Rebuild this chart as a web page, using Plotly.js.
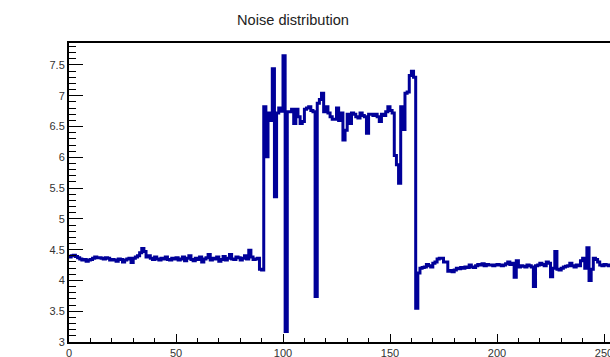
<!DOCTYPE html>
<html>
<head>
<meta charset="utf-8">
<script src="https://cdn.plot.ly/plotly-3.0.1.min.js"></script>
<style>html,body{margin:0;padding:0;background:#fff;}#chart{width:610px;height:357px;}</style>
</head>
<body>
<div id="chart"></div>
<script>
// Noise per channel (bin i covers [i, i+1))
const noiseLeft = [
  4.38, 4.40, 4.41, 4.39, 4.37, 4.35, 4.33, 4.34, 4.31, 4.33,
  4.34, 4.36, 4.38, 4.37, 4.37, 4.36, 4.35, 4.37, 4.36, 4.33,
  4.34, 4.33, 4.31, 4.35, 4.34, 4.30, 4.33, 4.35, 4.36, 4.29,
  4.36, 4.38, 4.40, 4.45, 4.52, 4.47, 4.38, 4.40, 4.36, 4.34,
  4.38, 4.35, 4.33, 4.36, 4.35, 4.38, 4.34, 4.33, 4.36, 4.35,
  4.37, 4.33, 4.35, 4.38, 4.32, 4.36, 4.40, 4.34, 4.32, 4.36,
  4.34, 4.38, 4.30, 4.35, 4.37, 4.42, 4.33, 4.36, 4.35, 4.38,
  4.31, 4.34, 4.39, 4.33, 4.36, 4.42, 4.35, 4.34, 4.38, 4.37,
  4.33, 4.36, 4.40, 4.35, 4.49, 4.38, 4.34, 4.35, 4.36, 4.18,
  4.17
];
const noiseMiddle = [
  6.82, 6.01, 6.72, 6.60, 7.44, 5.36, 6.72, 6.80, 6.75, 7.65,
  3.17, 6.74, 6.74, 6.78, 6.55, 6.78, 6.66, 6.55, 6.58, 6.78,
  6.80, 6.82, 6.76, 6.74, 3.74, 6.88, 6.94, 7.04, 6.74, 6.82,
  6.72, 6.66, 6.62, 6.62, 6.80, 6.60, 6.72, 6.28, 6.44, 6.70,
  6.55, 6.72, 6.70, 6.66, 6.64, 6.72, 6.68, 6.66, 6.39, 6.70,
  6.70, 6.68, 6.70, 6.66, 6.58, 6.70, 6.68, 6.74, 6.82, 6.76,
  6.72, 6.03, 5.88, 5.58, 6.82, 6.45, 7.04, 7.06, 7.33, 7.40,
  7.30
];
const noiseRight = [
  3.55, 4.12, 4.20, 4.21, 4.22, 4.26, 4.24, 4.22, 4.28, 4.30,
  4.35, 4.36, 4.36, 4.30, 4.30, 4.15, 4.16, 4.14, 4.17, 4.20,
  4.19, 4.21, 4.20, 4.22, 4.21, 4.25, 4.22, 4.21, 4.24, 4.26,
  4.25, 4.27, 4.24, 4.26, 4.25, 4.25, 4.24, 4.25, 4.26, 4.25,
  4.24, 4.25, 4.27, 4.30, 4.26, 4.28, 4.05, 4.32, 4.22, 4.24,
  4.23, 4.22, 4.25, 4.24, 4.22, 3.90, 4.24, 4.25, 4.28, 4.26,
  4.24, 4.30, 4.28, 4.06, 4.20, 4.47, 4.18, 4.17, 4.20, 4.22,
  4.23, 4.24, 4.28, 4.24, 4.22, 4.25, 4.24, 4.32, 4.36, 4.20,
  4.53, 4.00, 4.18, 4.36, 4.34, 4.30, 4.25, 4.24, 4.26, 4.25,
  4.24, 4.25, 4.26, 4.24
];
const xTickVals = [0, 50, 100, 150, 200, 250];
const yTickVals = [3, 3.5, 4, 4.5, 5, 5.5, 6, 6.5, 7, 7.5];

const noise = noiseLeft.concat(noiseMiddle, noiseRight);
const xs = noise.map((_, i) => i);
xs.push(noise.length);
const ys = noise.slice();
ys.push(noise[noise.length - 1]);

const trace = {
  x: xs, y: ys, type: 'scatter', mode: 'lines',
  line: {shape: 'hv', color: '#000099', width: 3},
  hoverinfo: 'skip'
};

const layout = {
  width: 610, height: 357,
  margin: {l: 69, r: 0, t: 43, b: 15, pad: 0},
  paper_bgcolor: '#fff', plot_bgcolor: '#fff',
  showlegend: false,
  font: {family: '"Liberation Sans", Arial, sans-serif', color: '#333'},
  title: {
    text: 'Noise distribution',
    font: {size: 14.6, color: '#222', family: '"Liberation Sans", Arial, sans-serif'},
    xref: 'container', x: 293 / 610, xanchor: 'center',
    yref: 'container', y: 1 - 20 / 357, yanchor: 'middle'
  },
  xaxis: {
    range: [0, 252.8], showgrid: false, zeroline: false,
    showline: true, linecolor: '#000', linewidth: 2, mirror: true,
    ticks: 'inside', ticklen: 8, tickwidth: 1, tickcolor: '#000',
    tickvals: xTickVals, ticktext: xTickVals.map(String),
    tickfont: {size: 11, color: '#333'},
    ticklabeloverflow: 'allow',
    minor: {dtick: 10, ticks: 'inside', ticklen: 4, tickwidth: 1, tickcolor: '#000', showgrid: false}
  },
  yaxis: {
    range: [3, 7.857], showgrid: false, zeroline: false,
    showline: true, linecolor: '#000', linewidth: 2,
    ticks: 'inside', ticklen: 14, tickwidth: 1, tickcolor: '#000',
    tickvals: yTickVals, ticktext: yTickVals.map(String),
    tickfont: {size: 11, color: '#333'},
    minor: {dtick: 0.1, tick0: 3, ticks: 'inside', ticklen: 7, tickwidth: 1, tickcolor: '#000', showgrid: false}
  }
};

Plotly.newPlot('chart', [trace], layout, {staticPlot: true, displayModeBar: false});
</script>
</body>
</html>
